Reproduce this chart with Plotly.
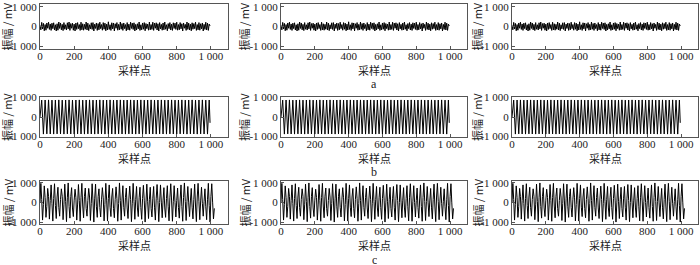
import plotly.graph_objects as go

# ---------------- data ----------------
x_ticks = [0, 200, 400, 600, 800, 1000]
x_ticktext = ["0", "200", "400", "600", "800", "1 000"]
y_ticks = [-1000, 0, 1000]
y_ticktext = ["-1 000", "0", "1 000"]
row_labels = ["a", "b", "c"]
x_title = "采样点"
y_title = "振幅 / mV"

# row a: low-amplitude noise, sample step 5
step_a = 5
noise_a = [
    60, -170, 210, -130, 160, -220, 100, -190, 180, -90, 220, -150, 130, -200, 170, -110, 190, -180, 90, -230,
    140, -190, 230, -100, 180, -170, 110, -210, 200, -140, 90, -180, 190, -120, 230, -200, 150, -90, 170, -190,
    120, -230, 180, -150, 200, -110, 100, -200, 220, -170, 140, -190, 110, -140, 230, -180, 170, -210, 90, -120,
    190, -150, 200, -230, 120, -100, 180, -200, 150, -170, 220, -110, 100, -190, 200, -140, 170, -220, 120, -180,
    240, -150, 90, -200, 190, -120, 180, -230, 140, -90, 200, -190, 110, -170, 230, -140, 150, -200, 180, -110,
    100, -220, 200, -170, 120, -190, 220, -100, 170, -150, 190, -230, 110, -180, 140, -120, 230, -200, 90, -170,
    180, -140, 200, -220, 150, -110, 120, -190, 230, -170, 100, -150, 220, -200, 170, -90, 190, -180, 140, -230,
    200, -120, 110, -190, 180, -170, 230, -140, 90, -220, 150, -110, 200, -180, 120, -200, 190, -100, 170, -150,
    220, -190, 100, -170, 200, -120, 140, -230, 180, -90, 110, -200, 230, -150, 170, -180, 120, -220, 190, -140,
    150, -110, 220, -200, 100, -170, 200, -190, 140, -120, 180, -230, 110, -150, 220, -180, 170, -200, 120, 30,
]

# row b: sinusoid, peaks/troughs every 10 samples
step_b = 10
wave_b = [
    0, 870, -880, 875, -870, 880, -875, 870, -880, 875,
    -870, 880, -875, 870, -880, 875, -870, 880, -875, 870,
    -880, 875, -870, 880, -875, 870, -880, 875, -870, 880,
    -875, 870, -880, 875, -870, 880, -875, 870, -880, 875,
    -870, 880, -875, 870, -880, 875, -870, 880, -875, 870,
    -880, 875, -870, 880, -875, 870, -880, 875, -870, 880,
    -875, 870, -880, 875, -870, 880, -875, 870, -880, 875,
    -870, 880, -875, 870, -880, 875, -870, 880, -875, 870,
    -880, 875, -870, 880, -875, 870, -880, 875, -870, 880,
    -875, 870, -880, 875, -870, 880, -875, 870, -880, 875,
    -300,
]

# row c: mixed oscillation, sample step 5
step_c = 5
wave_c = [
    0, 980, 150, -900, -100, 850, 250, -760, -200, 720, 300, -850, 100, 900, -50, -950,
    200, 960, -150, -820, 280, 780, -250, -700, 150, 700, 320, -880, -120, 940, 60, -980,
    240, 1000, -200, -800, 300, 760, -280, -720, 120, 680, 260, -900, -80, 920, 100, -960,
    260, 980, -180, -780, 320, 740, -300, -700, 100, 720, 280, -920, -60, 960, 80, -1000,
    220, 940, -220, -760, 300, 700, -260, -740, 140, 760, 240, -940, -100, 980, 120, -950,
    200, 900, -240, -720, 280, 720, -300, -780, 160, 800, 200, -960, -60, 1000, 100, -900,
    180, 860, -260, -700, 260, 740, -280, -820, 180, 840, 160, -980, -40, 980, 60, -860,
    160, 820, -280, -720, 240, 780, -260, -860, 200, 880, 120, -1000, -20, 940, 40, -820,
    140, 780, -300, -740, 220, 820, -240, -900, 220, 920, 100, -980, 0, 900, 20, -780,
    120, 760, -280, -760, 200, 860, -220, -940, 240, 960, 80, -960, 40, 860, 0, -740,
    100, 740, -260, -800, 180, 900, -200, -960, 260, 1000, 60, -920, 60, 820, -20, -720,
    80, 720, -240, -840, 160, 940, -180, -980, 280, 980, 40, -880, 80, 780, -40, -700,
    60, 700, -220, -880, 140, 980, -160, -1000, 300, 960, 20, -840, -300,
]

# ---------------- layout geometry (pixels of a 700x265 canvas) ----------------
W, H = 700, 265
col_px = [(40, 228), (281, 467), (512, 698)]
row_px = [(4, 49), (97, 137), (181, 224)]
y_ranges = [(-1150, 1150), (-1030, 1030), (-1100, 1100)]
ytitle_x = [7, 244, 477]
xlabel_y = [70, 158, 245]
rowlabel_y = [84, 171, 259]

series = [
    ([i * step_a for i in range(len(noise_a))], noise_a),
    ([i * step_b for i in range(len(wave_b) - 1)] + [(len(wave_b) - 2) * step_b + 5], wave_b),
    ([i * step_c for i in range(len(wave_c))], wave_c),
]

fig = go.Figure()
annotations = []
axis_font = dict(family="Liberation Serif", size=11, color="#222")
cjk_font = dict(family="Noto Sans CJK SC", size=11, color="#222")

k = 0
for r in range(3):
    xs, ys = series[r]
    y0p, y1p = row_px[r]
    for c in range(3):
        k += 1
        sfx = "" if k == 1 else str(k)
        x0p, x1p = col_px[c]
        fig.add_trace(go.Scatter(
            x=xs, y=ys, mode="lines",
            line=dict(color="black", width=1),
            xaxis="x" + sfx, yaxis="y" + sfx, showlegend=False, hoverinfo="skip",
        ))
        common = dict(showline=True, mirror=True, linecolor="#555", linewidth=1,
                      ticks="inside", ticklen=3, tickcolor="#555", showgrid=False,
                      zeroline=False, tickfont=axis_font, automargin=False)
        fig.update_layout(**{
            "xaxis" + sfx: dict(domain=[x0p / W, x1p / W], range=[0, 1100],
                                tickvals=x_ticks, ticktext=x_ticktext,
                                ticklabelstandoff=-3,
                                anchor="y" + sfx, **common),
            "yaxis" + sfx: dict(domain=[1 - y1p / H, 1 - y0p / H], range=list(y_ranges[r]),
                                tickvals=y_ticks, ticktext=y_ticktext,
                                anchor="x" + sfx, **common),
        })
        annotations.append(dict(text=x_title, x=(x0p + x1p) / 2 / W, y=1 - xlabel_y[r] / H,
                                xref="paper", yref="paper", showarrow=False, height=12,
                                font=cjk_font, xanchor="center", yanchor="middle"))
        annotations.append(dict(text=y_title, x=ytitle_x[c] / W, y=1 - (y0p + y1p) / 2 / H,
                                xref="paper", yref="paper", showarrow=False, textangle=-90,
                                font=cjk_font, xanchor="center", yanchor="middle"))
    annotations.append(dict(text=row_labels[r], x=374 / W, y=1 - rowlabel_y[r] / H,
                            xref="paper", yref="paper", showarrow=False, height=11,
                            font=dict(family="Liberation Serif", size=12, color="#222"),
                            xanchor="center", yanchor="middle"))

fig.update_layout(
    width=W, height=H, margin=dict(l=0, r=0, t=0, b=0, autoexpand=False),
    paper_bgcolor="white", plot_bgcolor="white",
    annotations=annotations,
)
fig.write_html("out.html", config={"displayModeBar": False},
               post_script="document.body.style.margin='0';document.body.style.padding='0';")
